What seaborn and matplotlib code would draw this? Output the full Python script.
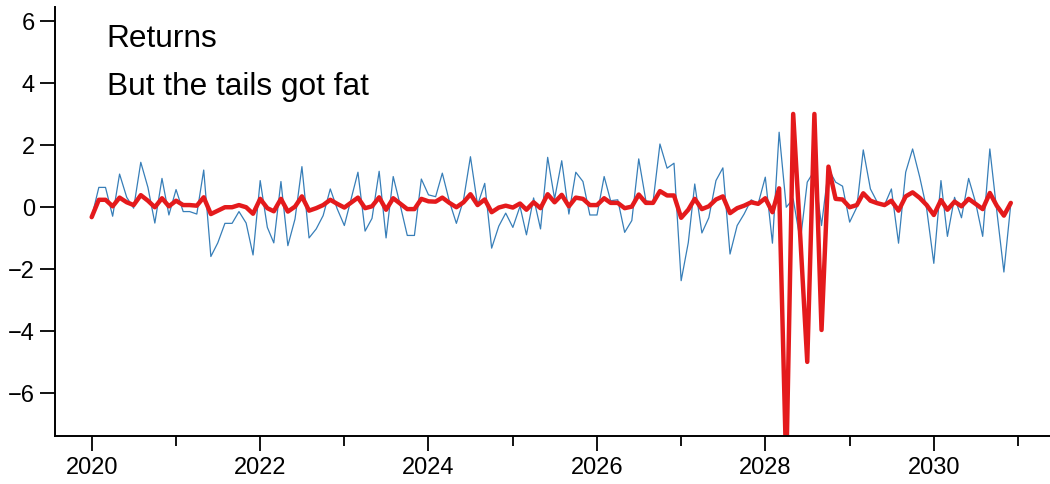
import pandas as pd
import matplotlib
matplotlib.use('Agg')
import matplotlib.pyplot as plt
import matplotlib.dates as mdates
import seaborn as sns

# monthly values, Jan 2020 .. Dec 2030
start = '2020-01-01'
n_months = 132

returns = [
    -0.33, 0.63, 0.63, -0.30, 1.06, 0.31, -0.04, 1.44, 0.63, -0.52, 0.92, -0.26,
    0.56, -0.15, -0.15, -0.23, 1.19, -1.60, -1.16, -0.53, -0.53, -0.15, -0.52, -1.55,
    0.85, -0.66, -1.16, 0.82, -1.25, -0.39, 1.30, -1.00, -0.71, -0.28, 0.58, -0.06,
    -0.60, 0.31, 1.12, -0.78, -0.37, 1.15, -1.00, 0.98, 0.04, -0.92, -0.92, 0.90,
    0.39, 0.33, 1.09, 0.17, -0.53, 0.23, 1.62, 0.06, 0.76, -1.33, -0.62, -0.20,
    -0.66, 0.02, -0.90, 0.29, -0.71, 1.60, 0.26, 1.49, -0.23, 1.12, 0.82, -0.26,
    -0.26, 0.98, 0.20, 0.23, -0.82, -0.44, 1.55, 0.20, 0.15, 2.03, 1.25, 1.41,
    -2.38, -1.15, 0.74, -0.84, -0.35, 0.85, 1.26, -1.52, -0.60, -0.23, 0.23, 0.10,
    0.96, -1.17, 2.41, -0.01, 0.26, -1.10, 0.80, 1.17, -0.60, 1.23, 0.80, 0.67,
    -0.49, -0.01, 1.84, 0.58, 0.15, 0.06, 0.58, -1.17, 1.12, 1.87, 0.96, -0.06,
    -1.82, 0.85, -0.95, 0.31, -0.35, 0.92, 0.15, -0.95, 1.87, -0.12, -2.10, 0.10,
]

fat_tails = [
    -0.33, 0.23, 0.23, 0.02, 0.30, 0.15, 0.06, 0.38, 0.20, -0.01, 0.28, 0.02,
    0.20, 0.06, 0.06, 0.04, 0.31, -0.23, -0.12, -0.01, -0.01, 0.06, -0.01, -0.22,
    0.26, -0.04, -0.14, 0.26, -0.15, 0.01, 0.34, -0.12, -0.04, 0.06, 0.23, 0.10,
    -0.02, 0.15, 0.30, -0.04, 0.02, 0.31, -0.09, 0.28, 0.10, -0.07, -0.07, 0.26,
    0.18, 0.17, 0.30, 0.13, -0.01, 0.15, 0.41, 0.06, 0.24, -0.17, -0.02, 0.04,
    -0.02, 0.11, -0.09, 0.15, -0.04, 0.41, 0.15, 0.39, 0.02, 0.30, 0.26, 0.06,
    0.06, 0.28, 0.13, 0.13, -0.04, 0.01, 0.40, 0.13, 0.13, 0.51, 0.37, 0.37,
    -0.35, -0.09, 0.26, -0.07, 0.02, 0.24, 0.34, -0.20, -0.04, 0.04, 0.15, 0.10,
    0.28, -0.17, 0.60, -8.50, 3.00, -1.00, -5.00, 3.00, -3.97, 1.30, 0.26, 0.24,
    -0.01, 0.06, 0.44, 0.20, 0.12, 0.06, 0.20, -0.12, 0.34, 0.47, 0.29, 0.06,
    -0.26, 0.22, -0.09, 0.17, 0.02, 0.26, 0.10, -0.07, 0.45, 0.04, -0.28, 0.13,
]

dates = pd.date_range(start, periods=n_months, freq='MS')
df = pd.DataFrame({'date': dates, 'returns': returns, 'fat': fat_tails})

sns.set_style('ticks')
plt.rcParams['font.family'] = ['Liberation Sans', 'DejaVu Sans']

fig = plt.figure(figsize=(10.5, 4.85), dpi=100)
ax = fig.add_axes([0.0524, 0.099, 0.9476, 0.8845])

sns.lineplot(data=df, x='date', y='returns', ax=ax, color='#377eb8', lw=0.9)
sns.lineplot(data=df, x='date', y='fat', ax=ax, color='#e41a1c', lw=3.2)

ax.set_xlim(pd.Timestamp('2019-07-26'), pd.Timestamp('2031-05-20'))
ax.set_ylim(-7.39, 6.45)
ax.set_yticks([-6, -4, -2, 0, 2, 4, 6])

ax.xaxis.set_major_locator(mdates.YearLocator(2))
ax.xaxis.set_minor_locator(mdates.YearLocator(1))
ax.xaxis.set_major_formatter(mdates.DateFormatter('%Y'))

ax.set_xlabel('')
ax.set_ylabel('')
sns.despine(ax=ax)
for s in ['left', 'bottom']:
    ax.spines[s].set_linewidth(1.4)
    ax.spines[s].set_color('black')

ax.tick_params(axis='both', which='major', labelsize=17, length=11, width=1.3,
               colors='black')
ax.tick_params(axis='x', which='minor', length=7, width=1.3, colors='black')

# title lines sit inside the axes, top left
ax.text(0.052, 0.909, 'Returns', transform=ax.transAxes, fontsize=22.8,
        va='baseline', color='black')
ax.text(0.052, 0.797, 'But the tails got fat', transform=ax.transAxes,
        fontsize=22.8, va='baseline', color='black')

fig.savefig('out.png', dpi=100)
